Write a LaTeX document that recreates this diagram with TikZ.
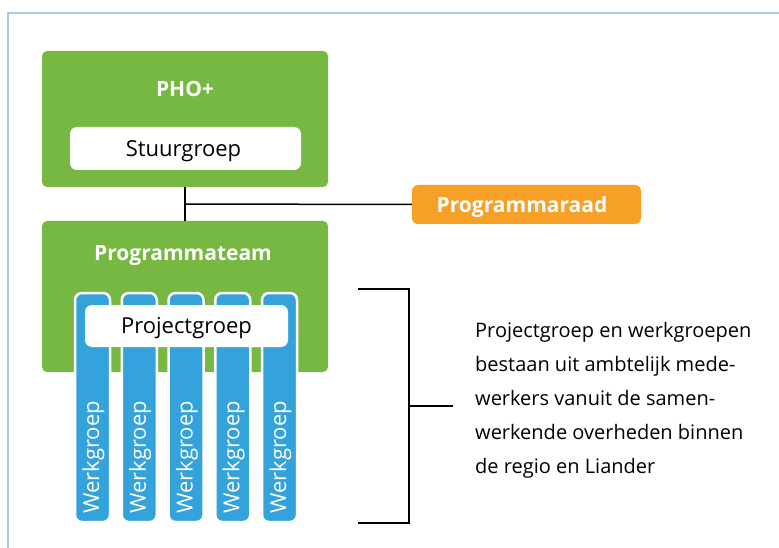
\documentclass[tikz,border=0pt]{standalone}
\usepackage{fontspec}
\setmainfont{Open Sans}
\usetikzlibrary{calc}
\definecolor{lgreen}{RGB}{118,184,66}
\definecolor{lorange}{RGB}{246,160,40}
\definecolor{lblue}{RGB}{52,163,219}
\definecolor{lframe}{RGB}{168,205,236}
\begin{document}
\begin{tikzpicture}[x=1pt,y=-1pt,
  greenbox/.style={fill=lgreen,rounded corners=5pt,draw=none,inner sep=0pt},
  whitebox/.style={fill=white,rounded corners=7pt,inner sep=0pt},
  boxtext/.style={anchor=base,inner sep=0pt,font=\fontsize{22}{26}\selectfont},
  colbox/.style={fill=lblue,draw=white,line width=2.5pt,rounded corners=7pt,minimum width=35pt,minimum height=229pt,inner sep=0pt},
  coltext/.style={rotate=90,text=white,font=\fontsize{22}{24}\selectfont,inner sep=0pt},
  headtext/.style={anchor=base,text=white,font=\bfseries\fontsize{21}{24}\selectfont,inner sep=0pt},
  conn/.style={draw=black,line width=1.5pt}]
\useasboundingbox (0,0) rectangle (779,548);
\draw[lframe,line width=1.5pt] (8,548) -- (8,13) -- (779,13);
% PHO+
\node[greenbox,minimum width=286pt,minimum height=136pt] (pho) at (185,119) {};
\node[headtext] (photxt) at (185,97) {PHO+};
\node[whitebox,minimum width=231pt,minimum height=43pt] (stuur) at (185.5,148.5) {};
\node[boxtext] (stuurtxt) at (183.5,157) {Stuurgroep};
% Programmateam
\node[greenbox,minimum width=286pt,minimum height=151pt] (team) at (185,296.5) {};
\node[headtext] (teamtxt) at (183,260) {Programmateam};
% connectors
\draw[conn] (pho.south) -- (team.north);
\coordinate (j) at (185,204);
\node[fill=lorange,rounded corners=6pt,minimum width=229pt,minimum height=39pt,inner sep=0pt] (raad) at (526.5,204.5) {};
\node[headtext] (raadtxt) at (522,213) {Programmaraad};
\draw[conn] (j) -- (raad.west);
% Werkgroepen
\foreach \i in {0,...,4}{
  \node[colbox] (col\i) at ({92.5+46.75*\i},407.5) {};
  \node[coltext] (wt\i) at ($(col\i.south)+(1,-66)$) {Werkgroep};
}
\node[whitebox,minimum width=203pt,minimum height=42pt] (proj) at (186.5,326) {};
\node[boxtext] (projtxt) at (186.5,333) {Projectgroep};
% bracket
\coordinate (bt) at (358,289);
\coordinate (bb) at (358,523);
\coordinate (bm) at (409,406);
\coordinate (be) at (453,406);
\draw[conn] (bt) -- (409,289) -- (409,523) -- (bb);
\draw[conn] (bm) -- (be);
\node[anchor=west,align=left,inner sep=0pt,font=\fontsize{20}{34}\selectfont] (desc) at (475,400)
 {Projectgroep en werkgroepen\\bestaan uit ambtelijk mede-\\werkers vanuit de samen-\\werkende overheden binnen\\de regio en Liander};
\end{tikzpicture}
\end{document}
